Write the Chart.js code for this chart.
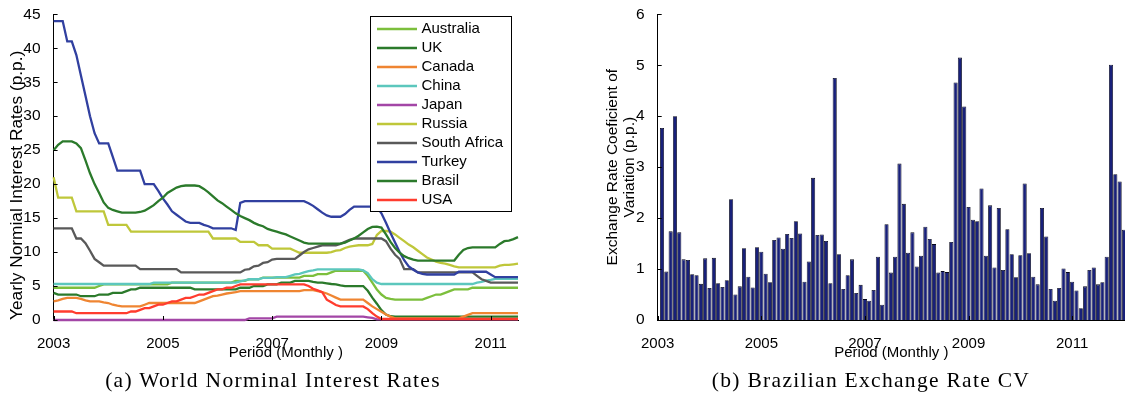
<!DOCTYPE html>
<html>
<head>
<meta charset="utf-8">
<script src="https://cdn.jsdelivr.net/npm/chart.js@4.4.1/dist/chart.umd.min.js"></script>
<style>
  html, body { margin: 0; padding: 0; background: #fff; overflow: hidden; }
  #page { position: relative; width: 1125px; height: 397px; }
  canvas { position: absolute; top: 0; }
  #rates { left: 0; }
  #cv { left: 595px; }
  .caption {
    position: absolute; top: 370px; width: 500px; text-align: center;
    font-family: "Liberation Serif", "Times New Roman", serif;
    font-size: 21.5px; line-height: 21.5px; letter-spacing: 1.3px; color: #000;
    white-space: nowrap;
  }
</style>
</head>
<body>
<div id="page">
  <canvas id="rates" width="530" height="370"></canvas>
  <canvas id="cv" width="530" height="370"></canvas>
  <div class="caption" style="left: 23px;">(a) World Norminal Interest Rates</div>
  <div class="caption" style="left: 621px;">(b) Brazilian Exchange Rate CV</div>
</div>
<script>
// monthly observations, Jan 2003 .. Jul 2011 (left) and Jan 2003 .. Dec 2011 (right)
const months = Array.from({ length: 103 }, (_, i) => 2003 + i / 12);
const barMonths = Array.from({ length: 108 }, (_, i) => 2003 + (i + 1) / 12);
const yearTicks = [2003, 2005, 2007, 2009, 2011];

const australia = [
  4.75, 4.75, 4.75, 4.75, 4.75, 4.75, 4.75, 4.75, 4.75, 4.75, 5.0, 5.25,
  5.25, 5.25, 5.25, 5.25, 5.25, 5.25, 5.25, 5.25, 5.25, 5.25, 5.25, 5.25,
  5.25, 5.25, 5.5, 5.5, 5.5, 5.5, 5.5, 5.5, 5.5, 5.5, 5.5, 5.5,
  5.5, 5.5, 5.5, 5.5, 5.75, 5.75, 5.75, 6.0, 6.0, 6.0, 6.25, 6.25,
  6.25, 6.25, 6.25, 6.25, 6.25, 6.25, 6.25, 6.5, 6.5, 6.5, 6.75, 6.75,
  6.75, 7.0, 7.25, 7.25, 7.25, 7.25, 7.25, 7.25, 7.25, 6.5, 5.5, 4.5,
  3.75, 3.25, 3.1, 3.0, 3.0, 3.0, 3.0, 3.0, 3.0, 3.0, 3.25, 3.5,
  3.75, 3.75, 4.0, 4.25, 4.5, 4.5, 4.5, 4.5, 4.75, 4.75, 4.75, 4.75,
  4.75, 4.75, 4.75, 4.75, 4.75, 4.75, 4.75,
];
const uk = [
  4.0, 3.75, 3.75, 3.75, 3.75, 3.75, 3.5, 3.5, 3.5, 3.5, 3.75, 3.75,
  3.75, 4.0, 4.0, 4.0, 4.25, 4.5, 4.5, 4.75, 4.75, 4.75, 4.75, 4.75,
  4.75, 4.75, 4.75, 4.75, 4.75, 4.75, 4.75, 4.5, 4.5, 4.5, 4.5, 4.5,
  4.5, 4.5, 4.5, 4.5, 4.5, 4.75, 4.75, 4.75, 5.0, 5.0, 5.0, 5.25,
  5.25, 5.25, 5.5, 5.5, 5.5, 5.75, 5.75, 5.75, 5.75, 5.6, 5.5, 5.5,
  5.4, 5.3, 5.25, 5.1, 5.0, 5.0, 5.0, 5.0, 5.0, 4.3, 3.3, 2.4,
  1.45, 0.8, 0.55, 0.5, 0.5, 0.5, 0.5, 0.5, 0.5, 0.5, 0.5, 0.5,
  0.5, 0.5, 0.5, 0.5, 0.5, 0.5, 0.5, 0.5, 0.5, 0.5, 0.5, 0.5,
  0.5, 0.5, 0.5, 0.5, 0.5, 0.5, 0.5,
];
const canada = [
  2.75, 2.9, 3.1, 3.25, 3.25, 3.25, 3.1, 2.9, 2.75, 2.75, 2.75, 2.6,
  2.5, 2.25, 2.1, 2.0, 2.0, 2.0, 2.0, 2.0, 2.25, 2.5, 2.5, 2.5,
  2.5, 2.5, 2.5, 2.5, 2.5, 2.5, 2.5, 2.5, 2.75, 3.0, 3.25, 3.5,
  3.6, 3.75, 3.9, 4.0, 4.1, 4.25, 4.25, 4.25, 4.25, 4.25, 4.25, 4.25,
  4.25, 4.25, 4.25, 4.25, 4.25, 4.25, 4.25, 4.4, 4.4, 4.4, 4.25, 4.1,
  3.9, 3.6, 3.3, 3.0, 3.0, 3.0, 3.0, 3.0, 3.0, 2.5, 2.0, 1.6,
  1.2, 0.8, 0.5, 0.25, 0.25, 0.25, 0.25, 0.25, 0.25, 0.25, 0.25, 0.25,
  0.25, 0.25, 0.25, 0.25, 0.25, 0.25, 0.5, 0.75, 1.0, 1.0, 1.0, 1.0,
  1.0, 1.0, 1.0, 1.0, 1.0, 1.0, 1.0,
];
const china = [
  5.3, 5.3, 5.3, 5.3, 5.3, 5.3, 5.3, 5.3, 5.3, 5.3, 5.3, 5.3,
  5.3, 5.3, 5.3, 5.3, 5.3, 5.3, 5.3, 5.3, 5.3, 5.3, 5.5, 5.5,
  5.5, 5.5, 5.5, 5.5, 5.5, 5.5, 5.5, 5.5, 5.5, 5.5, 5.5, 5.5,
  5.5, 5.5, 5.5, 5.5, 5.5, 5.7, 5.85, 6.0, 6.0, 6.0, 6.2, 6.2,
  6.2, 6.3, 6.3, 6.3, 6.5, 6.7, 6.8, 7.0, 7.2, 7.3, 7.45, 7.45,
  7.45, 7.45, 7.45, 7.45, 7.45, 7.45, 7.45, 7.45, 7.3, 6.9, 6.0, 5.5,
  5.3, 5.3, 5.3, 5.3, 5.3, 5.3, 5.3, 5.3, 5.3, 5.3, 5.3, 5.3,
  5.3, 5.3, 5.3, 5.3, 5.3, 5.3, 5.3, 5.3, 5.3, 5.5, 5.6, 5.8,
  5.9, 6.06, 6.06, 6.06, 6.06, 6.06, 6.06,
];
const japan = [
  0, 0, 0, 0, 0, 0, 0, 0, 0, 0, 0, 0,
  0, 0, 0, 0, 0, 0, 0, 0, 0, 0, 0, 0,
  0, 0, 0, 0, 0, 0, 0, 0, 0, 0, 0, 0,
  0, 0, 0, 0, 0, 0, 0, 0.25, 0.25, 0.25, 0.25, 0.25,
  0.25, 0.5, 0.5, 0.5, 0.5, 0.5, 0.5, 0.5, 0.5, 0.5, 0.5, 0.5,
  0.5, 0.5, 0.5, 0.5, 0.5, 0.5, 0.5, 0.5, 0.5, 0.4, 0.3, 0.1,
  0.1, 0.1, 0.1, 0.1, 0.1, 0.1, 0.1, 0.1, 0.1, 0.1, 0.1, 0.1,
  0.1, 0.1, 0.1, 0.1, 0.1, 0.1, 0.1, 0.1, 0.1, 0.1, 0.1, 0.1,
  0.1, 0.1, 0.1, 0.1, 0.1, 0.1, 0.1,
];
const russia = [
  21, 18, 18, 18, 18, 16, 16, 16, 16, 16, 16, 16,
  14, 14, 14, 14, 14, 13, 13, 13, 13, 13, 13, 13,
  13, 13, 13, 13, 13, 13, 13, 13, 13, 13, 13, 12,
  12, 12, 12, 12, 12, 11.5, 11.5, 11.5, 11.5, 11, 11, 11,
  10.5, 10.5, 10.5, 10.5, 10.5, 10.2, 9.9, 9.9, 9.9, 9.9, 9.9, 9.9,
  9.9, 10.0, 10.2, 10.3, 10.6, 10.8, 10.9, 11, 11, 11, 11.2, 12.5,
  13.1, 13.1, 13.0, 12.6, 12.1, 11.6, 11.1, 10.7, 10.2, 9.7, 9.2, 8.9,
  8.6, 8.4, 8.3, 8.1, 7.9, 7.75, 7.75, 7.75, 7.75, 7.75, 7.75, 7.75,
  7.75, 7.75, 8.0, 8.1, 8.1, 8.2, 8.3,
];
const southAfrica = [
  13.5, 13.5, 13.5, 13.5, 13.5, 12.0, 12.0, 11.3, 10.2, 9.0, 8.5, 8.0,
  8, 8, 8, 8, 8, 8, 8, 7.5, 7.5, 7.5, 7.5, 7.5,
  7.5, 7.5, 7.5, 7.5, 7, 7, 7, 7, 7, 7, 7, 7,
  7, 7, 7, 7, 7, 7.0, 7.4, 7.5, 7.9, 8.0, 8.4, 8.5,
  8.9, 9, 9, 9, 9, 9, 9.5, 10.0, 10.4, 10.6, 10.8, 11,
  11, 11, 11, 11.2, 11.5, 11.8, 12, 12, 12, 12, 12, 12,
  12, 11.6, 10.5, 9.6, 9.0, 7.5, 7.5, 7.5, 7, 7, 7, 7,
  7, 7, 7, 7, 7, 7, 7, 7, 7, 6.5, 6.0, 5.75,
  5.5, 5.5, 5.5, 5.5, 5.5, 5.5, 5.5,
];
const turkey = [
  44, 44, 44, 41, 41, 39, 36, 33, 30, 27.5, 26, 26,
  26, 24, 22, 22, 22, 22, 22, 22, 20, 20, 20, 19,
  17.9, 17, 16, 15.5, 15, 14.5, 14.3, 14.3, 14.3, 14, 13.8, 13.5,
  13.5, 13.5, 13.5, 13.5, 13.25, 17.25, 17.5, 17.5, 17.5, 17.5, 17.5, 17.5,
  17.5, 17.5, 17.5, 17.5, 17.5, 17.5, 17.5, 17.5, 17.2, 16.8, 16.3, 15.8,
  15.4, 15.2, 15.2, 15.2, 15.6, 16.2, 16.7, 16.7, 16.7, 16.7, 16.7, 16.7,
  15.7, 14.3, 12.8, 11.4, 10.0, 8.8, 7.9, 7.4, 7.0, 6.8, 6.7, 6.7,
  6.7, 6.7, 6.7, 6.7, 6.7, 7.1, 7.1, 7.1, 7.1, 7.1, 7.1, 7.1,
  6.7, 6.3, 6.3, 6.3, 6.3, 6.3, 6.3,
];
const brasil = [
  25, 25.8, 26.3, 26.3, 26.3, 26, 25.3, 23.5, 21.6, 20, 18.7, 17.3,
  16.5, 16.2, 16.0, 15.8, 15.8, 15.8, 15.8, 15.9, 16.1, 16.5, 16.9, 17.5,
  18.0, 18.7, 19.1, 19.5, 19.7, 19.8, 19.8, 19.8, 19.7, 19.3, 18.8, 18.2,
  17.6, 17.2, 16.7, 16.2, 15.7, 15.3, 15.0, 14.7, 14.3, 14.0, 13.8, 13.4,
  13.2, 13.0, 12.8, 12.6, 12.3, 12.0, 11.7, 11.4, 11.25, 11.25, 11.25, 11.25,
  11.25, 11.25, 11.25, 11.25, 11.4, 11.7, 12.0, 12.4, 12.9, 13.4, 13.7, 13.75,
  13.6, 12.6, 11.5, 10.6, 9.9, 9.4, 9.1, 8.9, 8.75, 8.75, 8.75, 8.75,
  8.75, 8.75, 8.75, 8.75, 8.75, 9.6, 10.3, 10.6, 10.7, 10.7, 10.7, 10.7,
  10.7, 10.7, 11.2, 11.6, 11.7, 11.9, 12.2,
];
const usa = [
  1.25, 1.25, 1.25, 1.25, 1.25, 1.0, 1.0, 1.0, 1.0, 1.0, 1.0, 1.0,
  1.0, 1.0, 1.0, 1.0, 1.0, 1.25, 1.25, 1.5, 1.75, 1.75, 2.0, 2.25,
  2.25, 2.5, 2.75, 2.75, 3.0, 3.25, 3.25, 3.5, 3.75, 3.75, 4.0, 4.25,
  4.5, 4.5, 4.75, 4.75, 5.0, 5.25, 5.25, 5.25, 5.25, 5.25, 5.25, 5.25,
  5.25, 5.25, 5.25, 5.25, 5.25, 5.25, 5.25, 5.25, 5.0, 4.6, 4.35, 4.1,
  3.0, 2.6, 2.2, 2.0, 2.0, 2.0, 2.0, 2.0, 2.0, 1.6, 1.0, 0.5,
  0.15, 0.15, 0.15, 0.15, 0.15, 0.15, 0.15, 0.15, 0.15, 0.15, 0.15, 0.15,
  0.15, 0.15, 0.15, 0.15, 0.15, 0.15, 0.15, 0.15, 0.15, 0.15, 0.15, 0.15,
  0.15, 0.15, 0.15, 0.15, 0.15, 0.15, 0.15,
];

// Brazilian exchange rate coefficient of variation, one bar per month
const exchangeCv = [
  3.77, 0.95, 1.74, 4.0, 1.72, 1.19, 1.18, 0.90, 0.88, 0.71, 1.21, 0.63,
  1.22, 0.72, 0.65, 0.78, 2.37, 0.50, 0.66, 1.41, 0.85, 0.64, 1.43, 1.34,
  0.91, 0.74, 1.57, 1.62, 1.40, 1.69, 1.61, 1.94, 1.70, 0.75, 1.15, 2.79,
  1.67, 1.68, 1.55, 0.72, 4.75, 1.29, 0.61, 0.88, 1.19, 0.53, 0.69, 0.41,
  0.38, 0.59, 1.24, 0.30, 1.88, 0.93, 1.24, 3.07, 2.28, 1.32, 1.72, 1.05,
  1.26, 1.83, 1.59, 1.49, 0.93, 0.96, 0.94, 1.53, 4.66, 5.15, 4.19, 2.22,
  1.97, 1.94, 2.58, 1.26, 2.25, 1.03, 2.20, 0.98, 1.78, 1.29, 0.84, 1.27,
  2.68, 1.31, 0.85, 0.70, 2.20, 1.64, 0.61, 0.38, 0.63, 1.01, 0.94, 0.75,
  0.58, 0.23, 0.66, 0.98, 1.03, 0.70, 0.74, 1.24, 5.01, 2.86, 2.72, 1.77,
];

const countries = [
  { label: 'Australia', data: australia, color: '#7cbf3c' },
  { label: 'UK', data: uk, color: '#2b7a2b' },
  { label: 'Canada', data: canada, color: '#ef8532' },
  { label: 'China', data: china, color: '#5cc7bd' },
  { label: 'Japan', data: japan, color: '#a346a6' },
  { label: 'Russia', data: russia, color: '#bfc73a' },
  { label: 'South Africa', data: southAfrica, color: '#595959' },
  { label: 'Turkey', data: turkey, color: '#3140a0' },
  { label: 'Brasil', data: brasil, color: '#2b7a2b' },
  { label: 'USA', data: usa, color: '#ff3c2e' },
];

Chart.defaults.font.family = '"Liberation Sans", Arial, sans-serif';
Chart.defaults.color = '#000';

// MATLAB style: tick marks point into the plot
const inwardTicks = {
  id: 'inwardTicks',
  afterDraw(chart) {
    const { ctx, chartArea, scales } = chart;
    ctx.save();
    ctx.strokeStyle = '#000';
    ctx.lineWidth = 1;
    ctx.beginPath();
    scales.x.ticks.forEach((t) => {
      const x = Math.round(scales.x.getPixelForValue(t.value)) + 0.5;
      ctx.moveTo(x, chartArea.bottom);
      ctx.lineTo(x, chartArea.bottom - 4);
    });
    scales.y.ticks.forEach((t) => {
      const y = Math.round(scales.y.getPixelForValue(t.value)) + 0.5;
      ctx.moveTo(chartArea.left, y);
      ctx.lineTo(chartArea.left + 4, y);
    });
    ctx.stroke();
    ctx.restore();
  },
};

// legend box sitting inside the plot area
const boxLegend = {
  id: 'boxLegend',
  afterDraw(chart, args, opts) {
    if (!opts.show) return;
    const { ctx } = chart;
    const { x, y, width, height, firstRow, rowHeight } = opts;
    ctx.save();
    ctx.fillStyle = '#fff';
    ctx.fillRect(x, y, width, height);
    ctx.strokeStyle = '#000';
    ctx.lineWidth = 1;
    ctx.strokeRect(x + 0.5, y + 0.5, width, height);
    ctx.font = '15px "Liberation Sans", Arial, sans-serif';
    ctx.textBaseline = 'middle';
    chart.data.datasets.forEach((ds, k) => {
      const ry = y + firstRow + k * rowHeight;
      ctx.strokeStyle = ds.borderColor;
      ctx.lineWidth = 2.3;
      ctx.beginPath();
      ctx.moveTo(x + 7, ry);
      ctx.lineTo(x + 47, ry);
      ctx.stroke();
      ctx.fillStyle = '#000';
      ctx.fillText(ds.label, x + 51.5, ry);
    });
    ctx.restore();
  },
};

function yearAxis(min, max, height) {
  return {
    type: 'linear',
    min,
    max,
    offset: false,
    afterBuildTicks: (scale) => {
      scale.ticks = yearTicks.map((v) => ({ value: v }));
    },
    afterFit: (scale) => {
      scale.height = height;
    },
    grid: { display: false, offset: false },
    border: { display: true, color: '#000', width: 1 },
    ticks: {
      font: { size: 15 },
      padding: 7,
      maxRotation: 0,
      autoSkip: false,
      callback: (v) => String(v),
    },
    title: {
      display: true,
      text: 'Period (Monthly )',
      font: { size: 15 },
      padding: { top: 0, bottom: 8 },
    },
  };
}

function createRatesChart() {
  const ctx = document.getElementById('rates');
  return new Chart(ctx, {
    type: 'line',
    data: {
      labels: months,
      datasets: countries.map((c, i) => ({
        label: c.label,
        data: c.data,
        borderColor: c.color,
        backgroundColor: c.color,
        borderWidth: 2.3,
        pointRadius: 0,
        tension: 0,
        fill: false,
        clip: 3,
        order: -i,
      })),
    },
    options: {
      responsive: false,
      animation: false,
      events: [],
      layout: { padding: { left: 0, right: 12, top: 10, bottom: 0 } },
      scales: {
        x: yearAxis(2003, 2011.5, 50),
        y: {
          min: 0,
          max: 45,
          afterFit: (scale) => {
            scale.width = 53.6;
          },
          grid: { display: false },
          border: { display: true, color: '#000', width: 1 },
          ticks: { stepSize: 5, font: { size: 15.5 }, padding: 5 },
          title: {
            display: true,
            text: 'Yearly Normial Interest Rates (p.p.)',
            align: 'start',
            font: { size: 17.3 },
            padding: { top: 7, bottom: 0 },
          },
        },
      },
      plugins: {
        legend: { display: false },
        tooltip: { enabled: false },
        boxLegend: { show: true, x: 370, y: 16, width: 141, height: 195, firstRow: 13, rowHeight: 19 },
      },
    },
    plugins: [inwardTicks, boxLegend],
  });
}

function createCvChart() {
  const ctx = document.getElementById('cv');
  return new Chart(ctx, {
    type: 'bar',
    data: {
      labels: barMonths,
      datasets: [
        {
          label: 'Exchange Rate CV',
          data: exchangeCv,
          backgroundColor: '#18207a',
          borderColor: '#05061a',
          borderWidth: 0.8,
          barPercentage: 0.95,
          categoryPercentage: 1,
        },
      ],
    },
    options: {
      responsive: false,
      animation: false,
      events: [],
      layout: { padding: { left: 0, right: 0, top: 10, bottom: 0 } },
      scales: {
        x: yearAxis(2003, 2012.02, 50),
        y: {
          min: 0,
          max: 6,
          afterFit: (scale) => {
            scale.width = 62.7;
          },
          grid: { display: false },
          border: { display: true, color: '#000', width: 1 },
          ticks: { stepSize: 1, font: { size: 15.5 }, padding: 5 },
          title: {
            display: true,
            text: ['Exchange Rate Coeficient of', 'Variation (p.p.)'],
            font: { size: 15.5, lineHeight: 1.07 },
            padding: { top: 9.7, bottom: 0 },
          },
        },
      },
      plugins: {
        legend: { display: false },
        tooltip: { enabled: false },
      },
    },
    plugins: [inwardTicks],
  });
}

createRatesChart();
createCvChart();
</script>
</body>
</html>
